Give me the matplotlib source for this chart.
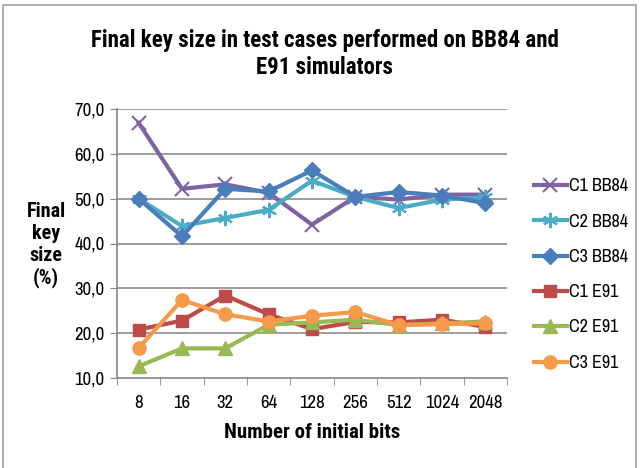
import matplotlib
matplotlib.use("Agg")
from matplotlib import pyplot as plt
from matplotlib.patches import Rectangle

narrow = ['Archivo Narrow', 'Liberation Sans', 'DejaVu Sans']
narrow_bold = ['Roboto Condensed', 'PT Sans Narrow', 'Open Sans Condensed', 'Archivo Narrow',
               'Liberation Sans', 'DejaVu Sans']
plt.rcParams['font.family'] = narrow

bits = ['8', '16', '32', '64', '128', '256', '512', '1024', '2048']
c1_bb84 = [66.9, 52.2, 53.2, 51.3, 44.2, 50.4, 49.8, 50.9, 50.9]
c2_bb84 = [50.0, 43.9, 45.7, 47.5, 54.0, 50.4, 47.9, 49.8, 50.3]
c3_bb84 = [50.0, 41.6, 52.2, 51.6, 56.3, 50.4, 51.5, 50.7, 49.0]
c1_e91 = [20.8, 22.8, 28.4, 24.2, 20.9, 22.5, 22.4, 23.0, 21.4]
c2_e91 = [12.6, 16.6, 16.6, 21.9, 22.4, 23.0, 21.8, 22.2, 22.6]
c3_e91 = [16.7, 27.4, 24.2, 22.6, 23.9, 24.7, 21.8, 22.0, 22.2]

fig = plt.figure(figsize=(6.41, 4.68), dpi=100)
ax = fig.add_axes([117/641, 1-378/468, 390/641, 269/468])

# outer chart border
fig.patches.append(Rectangle((3/641, -0.05), 633/641, 1.04, transform=fig.transFigure,
                             fill=False, edgecolor='#a0a0a0', linewidth=1.2))

x = list(range(len(bits)))
lw = 3
ax.plot(x, c1_bb84, color='#7f63a1', lw=lw, marker='x', ms=10, mew=1.5, label='C1 BB84')
ax.plot(x, c2_bb84, color='#4bacc6', lw=lw, marker=(6, 2, 0), ms=11, mew=1.5, label='C2 BB84')
ax.plot(x, c3_bb84, color='#4a7ebb', lw=lw, marker='D', ms=8, label='C3 BB84')
ax.plot(x, c1_e91, color='#be4b48', lw=lw, marker='s', ms=9, label='C1 E91')
ax.plot(x, c2_e91, color='#98b954', lw=lw, marker='^', ms=9.5, label='C2 E91')
ax.plot(x, c3_e91, color='#f59a4a', lw=lw, marker='o', ms=9.5, label='C3 E91')

ax.set_xlim(-0.5, len(bits) - 0.5)
ax.set_ylim(10, 70)
ax.set_yticks(range(10, 71, 10))
ax.set_yticklabels(['%d,0' % v for v in range(10, 71, 10)], fontsize=13.5)
ax.set_xticks(x)
ax.set_xticklabels(bits, fontsize=13.5)
ax.set_xticks([i - 0.5 for i in range(len(bits) + 1)], minor=True)
ax.tick_params(axis='x', which='major', length=0, pad=12)
ax.tick_params(axis='x', which='minor', length=5, color='#868686', direction='out')
ax.tick_params(axis='y', length=5, color='#868686', direction='out', pad=4)

for v in range(20, 71, 10):
    ax.axhline(v, color='#8c8c8c', lw=1.2, zorder=0)
for s in ['top', 'right']:
    ax.spines[s].set_visible(False)
for s in ['left', 'bottom']:
    ax.spines[s].set_color('#868686')
    ax.spines[s].set_linewidth(1.2)

ax.set_xlabel('Number of initial bits', fontsize=15, fontweight='bold', family=narrow_bold,
              labelpad=9)
fig.text(46/641, 1-245/468, 'Final\nkey\nsize\n(%)', ha='center', va='center',
         fontsize=14.5, fontweight='bold', family=narrow_bold, linespacing=1.2)
fig.text(325/641, 1-54/468, 'Final key size in test cases performed on BB84 and\nE91 simulators',
         ha='center', va='center', fontsize=16.5, fontweight='bold', family=narrow_bold,
         linespacing=1.25)

ax.legend(loc='upper left', bbox_to_anchor=(527/641, 1-171/468), bbox_transform=fig.transFigure,
          frameon=False, fontsize=13, labelspacing=1.07, handlelength=1.8, handletextpad=0.15,
          borderaxespad=0)

fig.savefig('out.png', dpi=100)
